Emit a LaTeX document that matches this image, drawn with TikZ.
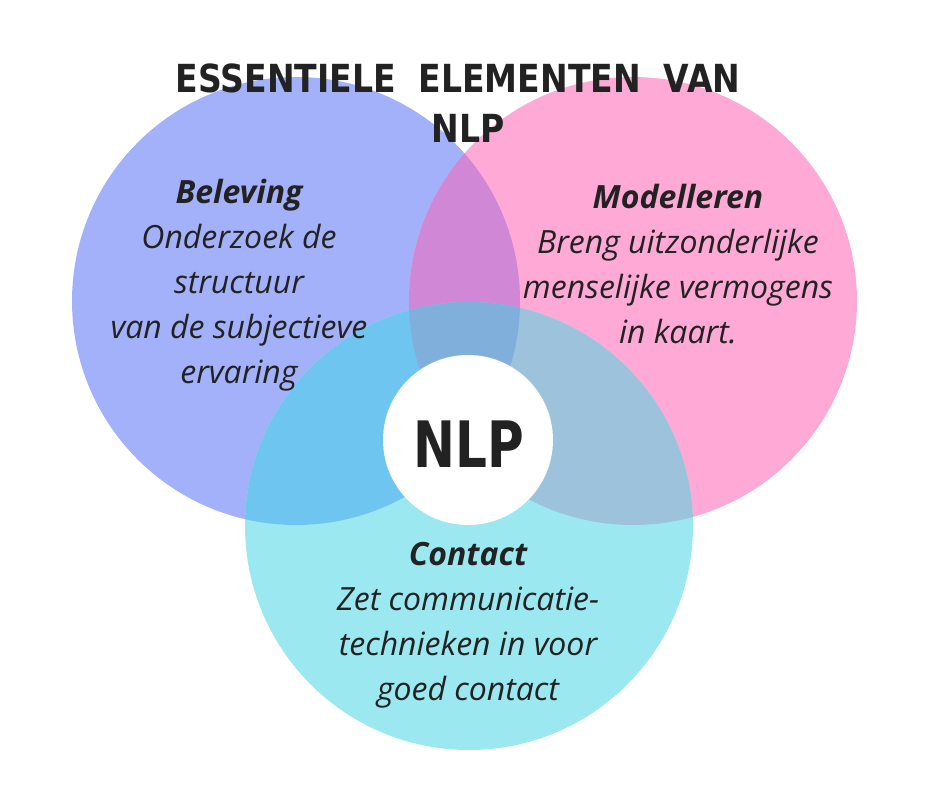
\documentclass[tikz,border=0pt]{standalone}
\usepackage{fontspec}
\setmainfont{Open Sans}
\newfontfamily\headfont{DejaVu Sans Condensed}

\definecolor{belevingblue}{HTML}{A3B1FB}
\definecolor{modelpink}{HTML}{FFAAD6}
\definecolor{contactcyan}{HTML}{9CE8F0}
\definecolor{bluepink}{HTML}{CF87D6}
\definecolor{bluecyan}{HTML}{6EC5F0}
\definecolor{pinkcyan}{HTML}{9DC2DB}
\definecolor{allthree}{HTML}{80AFDB}
\definecolor{textgrey}{HTML}{222222}

\begin{document}
\begin{tikzpicture}[x=0.75pt,y=-0.75pt,
	circletext/.style={align=center,text=textgrey,font=\itshape\fontsize{24}{33.75}\selectfont},
	headtext/.style={text=textgrey,xscale=0.95,font=\headfont\bfseries\fontsize{29}{38}\selectfont}]
	\useasboundingbox (0,0) rectangle (940,788);

	\fill[belevingblue] (296,301) circle[radius=168pt];
	\fill[modelpink] (633,301) circle[radius=168pt];
	\fill[contactcyan] (469,526) circle[radius=168pt];

	% overlaps
	\begin{scope}
		\clip (296,301) circle[radius=168pt];
		\fill[bluepink] (633,301) circle[radius=168pt];
		\fill[bluecyan] (469,526) circle[radius=168pt];
		\clip (633,301) circle[radius=168pt];
		\fill[allthree] (469,526) circle[radius=168pt];
	\end{scope}
	\begin{scope}
		\clip (633,301) circle[radius=168pt];
		\fill[pinkcyan] (469,526) circle[radius=168pt];
		\clip (296,301) circle[radius=168pt];
		\fill[allthree] (469,526) circle[radius=168pt];
	\end{scope}

	\fill[white] (468,440) circle[radius=63.75pt];
	\node[text=textgrey,xscale=0.87,font=\headfont\bfseries\fontsize{48}{48}\selectfont] (nlp) at (469,444) {NLP};

	\node[headtext] (title1) at (458,78) {ESSENTIELE\ \ ELEMENTEN\ \ VAN};
	\node[headtext] (title2) at (468,128) {NLP};

	\node[circletext] (beleving) at (239,285)
		{\textbf{Beleving}\\Onderzoek de\\structuur\\van de subjectieve\\ervaring};
	\node[circletext] (modelleren) at (678,264)
		{\textbf{Modelleren}\\Breng uitzonderlijke\\menselijke vermogens\\in kaart.};
	\node[circletext] (contact) at (468,625)
		{\textbf{Contact}\\Zet communicatie-\\technieken in voor\\goed contact};
\end{tikzpicture}
\end{document}
